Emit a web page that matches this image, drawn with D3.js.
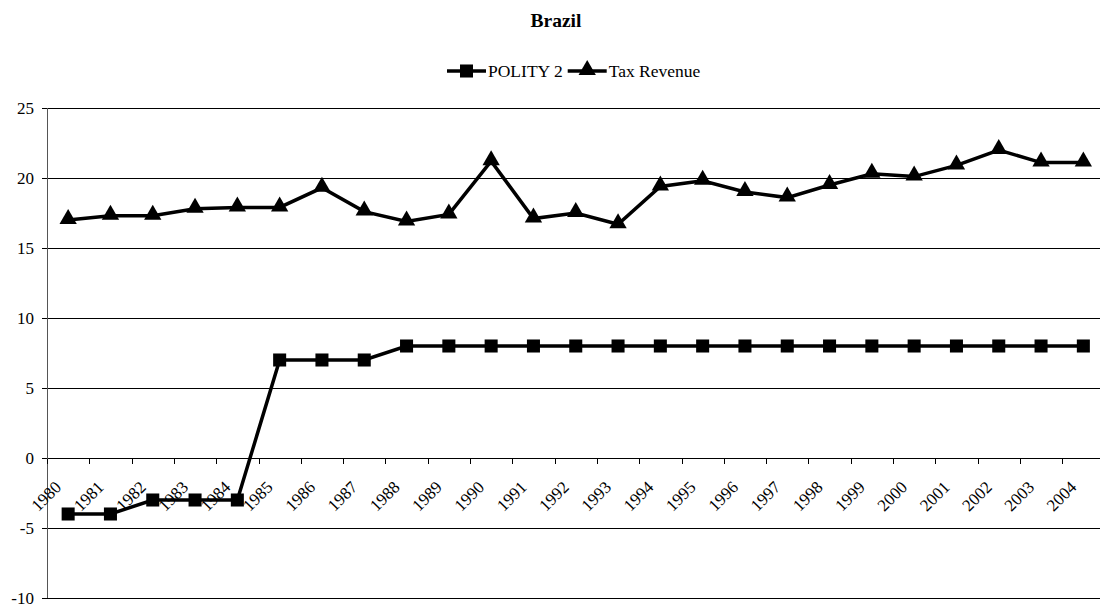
<!DOCTYPE html>
<html>
<head>
<meta charset="utf-8">
<script src="https://cdn.jsdelivr.net/npm/d3@7"></script>
<style>
  body { margin: 0; background: #fff; }
  .grid line { stroke: #000; stroke-width: 1; shape-rendering: crispEdges; }
  .line { fill: none; stroke: #000; stroke-width: 3.5; stroke-linejoin: miter; }
</style>
</head>
<body>
<div id="chart"></div>
<script>
var years = [1980, 1981, 1982, 1983, 1984, 1985, 1986, 1987, 1988, 1989, 1990, 1991,
  1992, 1993, 1994, 1995, 1996, 1997, 1998, 1999, 2000, 2001, 2002, 2003, 2004]

var polity = [-4, -4, -3, -3, -3, 7, 7, 7, 8, 8, 8, 8,
  8, 8, 8, 8, 8, 8, 8, 8, 8, 8, 8, 8, 8]

var tax = [17.0, 17.3, 17.3, 17.8, 17.9, 17.9, 19.3, 17.6, 16.9, 17.4, 21.2, 17.1,
  17.5, 16.7, 19.4, 19.8, 19.0, 18.6, 19.5, 20.3, 20.1, 20.9, 22.0, 21.1, 21.1]

var yTicks = [-10, -5, 0, 5, 10, 15, 20, 25]

var seriesNames = ['POLITY 2', 'Tax Revenue']

var width = 1100, height = 606
var plotLeft = 47, plotTop = 108, plotBottom = 598
var band = 42.3
var serif = '"Liberation Serif", "Times New Roman", serif'

var svg = d3.select('#chart').append('svg')
  .attr('width', width).attr('height', height)

var x = d3.scaleBand().domain(years).range([plotLeft, plotLeft + band * years.length])
var y = d3.scaleLinear().domain([-10, 25]).range([plotBottom, plotTop])

var cx = function(d, i){ return x(years[i]) + x.bandwidth() / 2 }

// title
svg.append('text')
  .attr('x', 556).attr('y', 27)
  .attr('text-anchor', 'middle')
  .style('font-family', serif)
  .style('font-weight', 'bold').style('font-size', '19.5px')
  .text('Brazil')

// gridlines
svg.append('g').attr('class', 'grid')
  .selectAll('line').data(yTicks).enter().append('line')
  .attr('x1', plotLeft - 5).attr('x2', width)
  .attr('y1', function(d){ return Math.round(y(d)) + 0.5 })
  .attr('y2', function(d){ return Math.round(y(d)) + 0.5 })

// y axis
svg.append('line')
  .attr('x1', plotLeft + 0.5).attr('x2', plotLeft + 0.5)
  .attr('y1', plotTop).attr('y2', plotBottom)
  .attr('stroke', '#555').attr('shape-rendering', 'crispEdges')

svg.append('g').selectAll('text').data(yTicks).enter().append('text')
  .attr('x', plotLeft - 13).attr('y', function(d){ return y(d) })
  .attr('dy', '0.35em')
  .attr('text-anchor', 'end')
  .style('font-family', serif)
  .style('font-size', '17px')
  .text(function(d){ return d })

// x ticks on zero line
var y0 = Math.round(y(0)) + 0.5
svg.append('g').selectAll('line').data(years).enter().append('line')
  .attr('x1', function(d){ return Math.round(x(d)) + 0.5 })
  .attr('x2', function(d){ return Math.round(x(d)) + 0.5 })
  .attr('y1', y0).attr('y2', y0 + 5)
  .attr('stroke', '#000').attr('shape-rendering', 'crispEdges')

svg.append('g').selectAll('text').data(years).enter().append('text')
  .attr('transform', function(d){
    var px = x(d) + x.bandwidth() / 2 - 22
    return 'translate(' + px + ',' + (y(0) + 38) + ') rotate(-45)'
  })
  .attr('text-anchor', 'middle')
  .attr('dy', '0.35em')
  .style('font-family', serif)
  .style('font-size', '17px')
  .text(function(d){ return d })

// lines
var line = d3.line().x(cx).y(function(d){ return y(d) })

svg.append('path').attr('class', 'line').attr('d', line(polity))
svg.append('path').attr('class', 'line').attr('d', line(tax))

var square = d3.symbol().type(d3.symbolSquare).size(170)
var triangle = d3.symbol().type(d3.symbolTriangle).size(130)

svg.append('g').selectAll('path').data(polity).enter().append('path')
  .attr('d', square)
  .attr('transform', function(d, i){ return 'translate(' + cx(d, i) + ',' + y(d) + ')' })

svg.append('g').selectAll('path').data(tax).enter().append('path')
  .attr('d', triangle)
  .attr('transform', function(d, i){ return 'translate(' + cx(d, i) + ',' + (y(d) - 1) + ')' })

// legend
var legend = svg.append('g').attr('transform', 'translate(447,71)')
var lx = 0
seriesNames.forEach(function(name, i){
  var g = legend.append('g').attr('transform', 'translate(' + lx + ',0)')
  g.append('line').attr('x1', 0).attr('x2', 39).attr('y1', 0).attr('y2', 0)
    .attr('stroke', '#000').attr('stroke-width', 3.5)
  g.append('path').attr('d', i == 0 ? square : triangle)
    .attr('transform', 'translate(19.5,' + (i == 0 ? 0 : -1) + ')')
  var t = g.append('text').attr('x', 41).attr('dy', '0.35em')
    .style('font-family', serif)
    .style('font-size', '17.5px').text(name)
  lx += 41 + t.node().getComputedTextLength() + 5
})
</script>
</body>
</html>
